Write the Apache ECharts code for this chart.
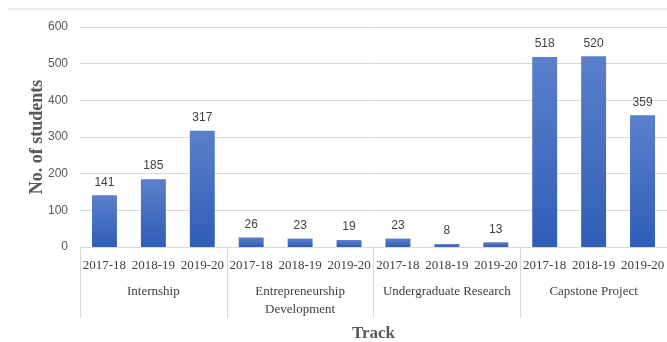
<!DOCTYPE html>
<html><head><meta charset="utf-8">
<script src="https://cdn.jsdelivr.net/npm/echarts@6/dist/echarts.min.js"></script>
<style>html,body{margin:0;padding:0;background:#fff}#c{width:667px;height:342px}</style>
</head><body><div id="c"></div>
<script>
const years = ['2017-18','2018-19','2019-20','2017-18','2018-19','2019-20','2017-18','2018-19','2019-20','2017-18','2018-19','2019-20'];
const tracks = ['Internship','Entrepreneurship\nDevelopment','Undergraduate Research','Capstone Project'];
const students = [141,185,317,26,23,19,23,8,13,518,520,359];
const yTicks = {min:0,max:600,interval:100};

const chart = echarts.init(document.getElementById('c'));
chart.setOption({
  animation:false,
  graphic:[{type:'line',shape:{x1:8,y1:9,x2:667,y2:9},style:{stroke:'#d9d9d9',lineWidth:1}}],
  grid:{left:80,right:0,top:27,bottom:95,containLabel:false,outerBoundsMode:'none'},
  xAxis:[{
    type:'category',data:years,position:'bottom',
    axisLine:{show:true,lineStyle:{color:'#d9d9d9'}},
    axisTick:{show:false},
    axisLabel:{interval:0,margin:12,fontFamily:'Liberation Serif',fontSize:13,color:'#404040'}
  },{
    type:'category',data:tracks,position:'bottom',
    axisLine:{show:false},
    axisTick:{show:true,length:71,alignWithLabel:false,lineStyle:{color:'#d9d9d9'}},
    axisLabel:{interval:0,margin:36,fontFamily:'Liberation Serif',fontSize:13,color:'#404040',lineHeight:18},
    name:'Track',nameLocation:'middle',nameGap:78,nameMoveOverlap:false,
    nameTextStyle:{fontFamily:'Liberation Serif',fontWeight:'bold',fontSize:17,color:'#595959'}
  }],
  yAxis:{
    type:'value',min:yTicks.min,max:yTicks.max,interval:yTicks.interval,
    axisLine:{show:false},axisTick:{show:false},
    splitLine:{lineStyle:{color:'#d9d9d9'}},
    axisLabel:{margin:12,fontFamily:'Liberation Sans',fontSize:12,color:'#595959'},
    name:'No. of students',nameLocation:'middle',nameGap:34,nameMoveOverlap:false,
    nameTextStyle:{fontFamily:'Liberation Serif',fontWeight:'bold',fontSize:18,color:'#595959'}
  },
  series:[{
    type:'bar',data:students,xAxisIndex:0,barCategoryGap:'49%',
    itemStyle:{color:new echarts.graphic.LinearGradient(0,0,0,1,[{offset:0,color:'#5b80cb'},{offset:1,color:'#2f5db7'}])},
    label:{show:true,position:'top',distance:7,fontFamily:'Liberation Sans',fontSize:12,color:'#404040'}
  }]
});
</script></body></html>
